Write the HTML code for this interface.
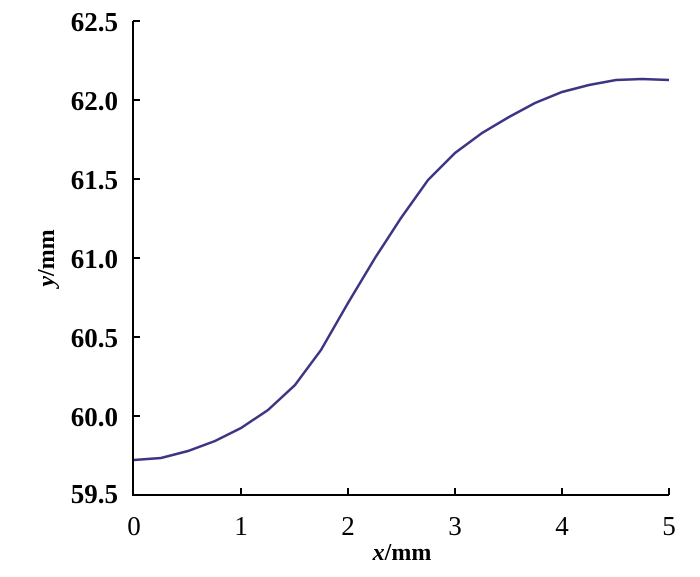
<!DOCTYPE html>
<html><head><style>body{margin:0;background:#fff}</style></head><body>
<svg width="700" height="572" xmlns="http://www.w3.org/2000/svg" font-family="Liberation Serif, serif" font-size="27" font-weight="bold">
<g stroke="#000" stroke-width="2" fill="none">
<path d="M133,21 V495 H669"/>
<path d="M133,21h7M133,100h7M133,179h7M133,258h7M133,337h7M133,416h7"/>
<path d="M241,495v-7M348,495v-7M455,495v-7M562,495v-7M669,495v-7"/>
</g>
<g text-anchor="end">
<text x="118" y="31">62.5</text><text x="118" y="110">62.0</text><text x="118" y="189">61.5</text>
<text x="118" y="268">61.0</text><text x="118" y="347">60.5</text><text x="118" y="426">60.0</text><text x="118" y="503">59.5</text>
</g>
<g text-anchor="middle">
<g font-weight="normal">
<text x="134" y="535">0</text><text x="241" y="535">1</text><text x="348" y="535">2</text>
<text x="455" y="535">3</text><text x="562" y="535">4</text><text x="669" y="535">5</text>
</g>
<text x="402" y="560" font-size="24"><tspan font-style="italic">x</tspan>/mm</text>
<text transform="translate(54,258) rotate(-90)" font-size="24"><tspan font-style="italic">y</tspan>/mm</text>
</g>
<polyline fill="none" stroke="#3b3584" stroke-width="2.5" points="134,460 161,458 188,451 215,441 241,428 268,410 295,385 321,350 348,303 375,258 401,218 428,180 455,153 482,133 509,117 535,103 562,92 589,85 616,80 642,79 669,80"/>
</svg>
</body></html>
